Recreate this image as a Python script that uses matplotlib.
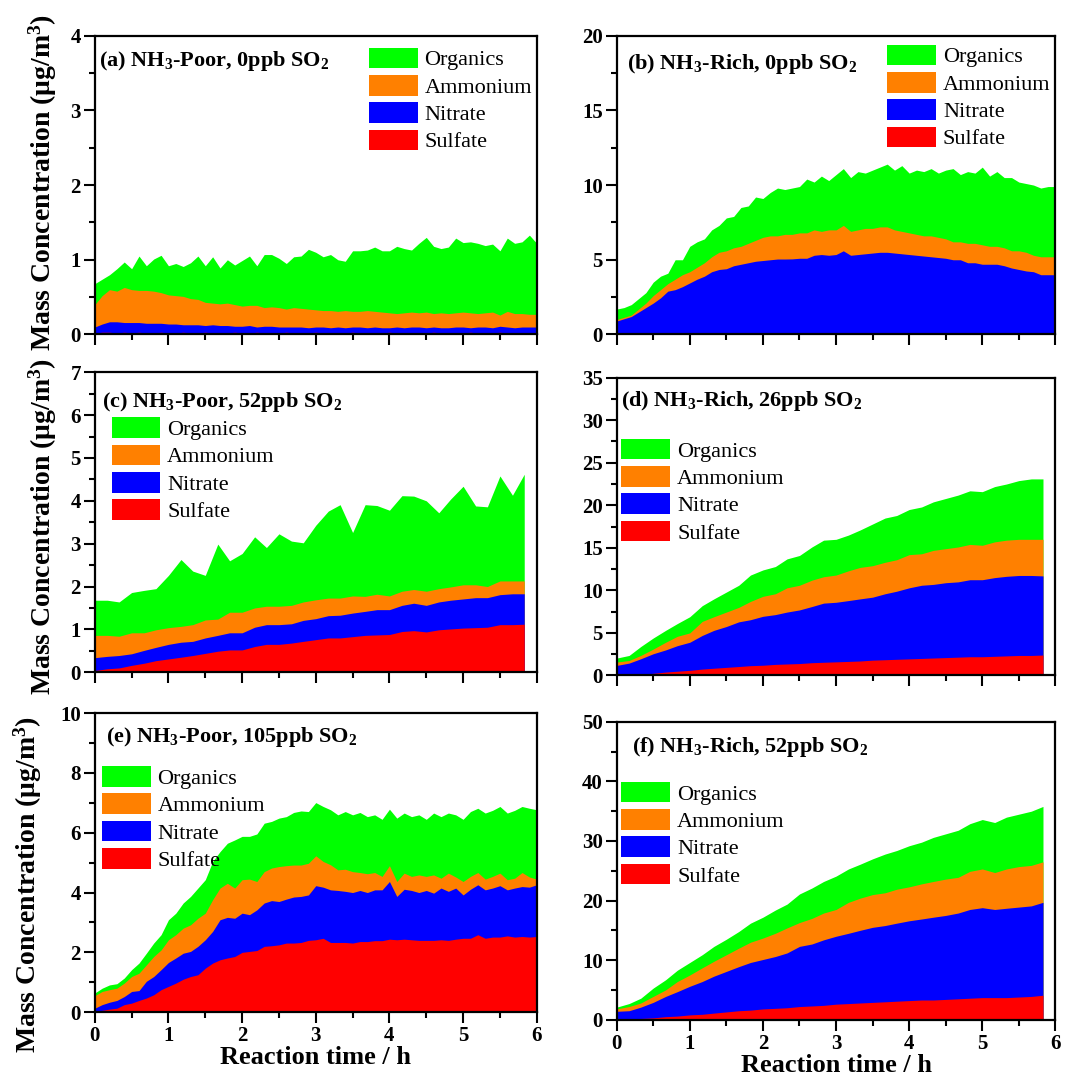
import numpy as np
import matplotlib.pyplot as plt
from matplotlib.ticker import MultipleLocator
from matplotlib.patches import Patch

plt.rcParams['font.family'] = 'Liberation Serif'
plt.rcParams['font.weight'] = 'bold'
plt.rcParams['mathtext.fontset'] = 'custom'
plt.rcParams['mathtext.rm'] = 'Liberation Serif:bold'
plt.rcParams['mathtext.it'] = 'Liberation Serif:bold'
plt.rcParams['mathtext.bf'] = 'Liberation Serif:bold'

# species order bottom -> top, values below are the upper edge of each stacked layer
species = ['Sulfate', 'Nitrate', 'Ammonium', 'Organics']
colors = ['#ff0000', '#0000ff', '#ff8000', '#00ff00']

# 6 min resolution (panels a, b, e)
t6 = [0.0, 0.1, 0.2, 0.3, 0.4, 0.5, 0.6, 0.7, 0.8, 0.9,
      1.0, 1.1, 1.2, 1.3, 1.4, 1.5, 1.6, 1.7, 1.8, 1.9,
      2.0, 2.1, 2.2, 2.3, 2.4, 2.5, 2.6, 2.7, 2.8, 2.9,
      3.0, 3.1, 3.2, 3.3, 3.4, 3.5, 3.6, 3.7, 3.8, 3.9,
      4.0, 4.1, 4.2, 4.3, 4.4, 4.5, 4.6, 4.7, 4.8, 4.9,
      5.0, 5.1, 5.2, 5.3, 5.4, 5.5, 5.6, 5.7, 5.8, 5.9, 6.0]
# 10 min resolution (panels c, d, f)
t10 = [0.0, 0.17, 0.33, 0.5, 0.67, 0.83, 1.0, 1.17, 1.33, 1.5, 1.67, 1.83,
       2.0, 2.17, 2.33, 2.5, 2.67, 2.83, 3.0, 3.17, 3.33, 3.5, 3.67, 3.83,
       4.0, 4.17, 4.33, 4.5, 4.67, 4.83, 5.0, 5.17, 5.33, 5.5, 5.67, 5.83]

# (a) NH3-Poor, 0ppb SO2
a_sulfate = [0.02, 0.03, 0.03, 0.02, 0.03, 0.02, 0.03, 0.02, 0.02, 0.03,
             0.02, 0.02, 0.03, 0.02, 0.02, 0.03, 0.02, 0.02, 0.02, 0.03,
             0.02, 0.02, 0.03, 0.02, 0.02, 0.02, 0.03, 0.02, 0.02, 0.02,
             0.03, 0.02, 0.02, 0.02, 0.02, 0.03, 0.02, 0.02, 0.02, 0.02,
             0.03, 0.02, 0.02, 0.02, 0.02, 0.02, 0.03, 0.02, 0.02, 0.02,
             0.02, 0.03, 0.02, 0.02, 0.02, 0.03, 0.02, 0.02, 0.02, 0.02, 0.02]
a_nitrate = [0.10, 0.14, 0.17, 0.17, 0.16, 0.16, 0.16, 0.15, 0.15, 0.15,
             0.14, 0.14, 0.13, 0.13, 0.13, 0.12, 0.13, 0.12, 0.12, 0.11,
             0.11, 0.12, 0.10, 0.11, 0.11, 0.10, 0.10, 0.10, 0.10, 0.09,
             0.10, 0.10, 0.09, 0.10, 0.09, 0.10, 0.10, 0.09, 0.10, 0.09,
             0.09, 0.10, 0.09, 0.10, 0.10, 0.09, 0.10, 0.09, 0.09, 0.10,
             0.10, 0.09, 0.10, 0.10, 0.09, 0.11, 0.10, 0.09, 0.10, 0.10, 0.10]
a_ammonium = [0.40, 0.52, 0.60, 0.58, 0.63, 0.60, 0.59, 0.59, 0.58, 0.56,
              0.53, 0.52, 0.51, 0.48, 0.47, 0.43, 0.42, 0.41, 0.42, 0.40,
              0.38, 0.39, 0.39, 0.36, 0.37, 0.36, 0.34, 0.36, 0.35, 0.34,
              0.33, 0.32, 0.32, 0.31, 0.32, 0.31, 0.31, 0.32, 0.31, 0.30,
              0.29, 0.28, 0.29, 0.30, 0.29, 0.30, 0.28, 0.29, 0.28, 0.29,
              0.30, 0.29, 0.28, 0.29, 0.30, 0.26, 0.31, 0.28, 0.28, 0.27, 0.27]
a_organics = [0.68, 0.74, 0.80, 0.88, 0.97, 0.88, 1.05, 0.92, 1.01, 1.06,
              0.92, 0.95, 0.91, 0.96, 1.05, 0.92, 1.04, 0.89, 1.00, 0.93,
              0.99, 1.05, 0.92, 1.07, 1.07, 1.02, 0.95, 1.04, 1.05, 1.14,
              1.10, 1.04, 1.07, 1.00, 0.98, 1.12, 1.12, 1.13, 1.17, 1.12,
              1.12, 1.18, 1.15, 1.13, 1.22, 1.30, 1.18, 1.15, 1.17, 1.29,
              1.23, 1.24, 1.22, 1.19, 1.21, 1.12, 1.29, 1.22, 1.24, 1.33, 1.22]

# (b) NH3-Rich, 0ppb SO2
b_sulfate = [0.05, 0.05, 0.06, 0.05, 0.05, 0.06, 0.05, 0.05, 0.06, 0.05,
             0.05, 0.06, 0.05, 0.05, 0.06, 0.05, 0.05, 0.06, 0.05, 0.05,
             0.06, 0.05, 0.05, 0.06, 0.05, 0.05, 0.06, 0.05, 0.05, 0.06,
             0.08, 0.08, 0.09, 0.08, 0.08, 0.09, 0.10, 0.09, 0.08, 0.09,
             0.10, 0.09, 0.08, 0.09, 0.10, 0.09, 0.08, 0.09, 0.10, 0.09,
             0.10, 0.09, 0.08, 0.09, 0.10, 0.09, 0.08, 0.09, 0.08, 0.08, 0.08]
b_nitrate = [0.9, 1.05, 1.2, 1.5, 1.8, 2.1, 2.45, 2.9, 3.0, 3.2,
             3.45, 3.7, 3.9, 4.2, 4.35, 4.4, 4.6, 4.7, 4.8, 4.9,
             4.95, 5.0, 5.05, 5.05, 5.06, 5.1, 5.1, 5.3, 5.35, 5.3,
             5.35, 5.6, 5.3, 5.35, 5.4, 5.45, 5.5, 5.5, 5.45, 5.4,
             5.35, 5.3, 5.25, 5.2, 5.15, 5.1, 5.0, 5.0, 4.8, 4.8,
             4.7, 4.7, 4.7, 4.6, 4.45, 4.35, 4.25, 4.2, 4.0, 4.0, 4.0]
b_ammonium = [1.0, 1.15, 1.3, 1.7, 2.1, 2.6, 3.0, 3.4, 3.7, 4.0,
              4.2, 4.5, 4.8, 5.2, 5.5, 5.6, 5.8, 5.9, 6.1, 6.3,
              6.5, 6.6, 6.6, 6.7, 6.7, 6.8, 6.8, 7.0, 6.9, 7.0,
              7.0, 7.3, 6.9, 7.0, 7.1, 7.1, 7.2, 7.2, 7.0, 6.9,
              6.8, 6.7, 6.6, 6.6, 6.5, 6.4, 6.2, 6.2, 6.1, 6.1,
              6.0, 5.9, 5.9, 5.8, 5.6, 5.6, 5.5, 5.3, 5.2, 5.2, 5.2]
b_organics = [1.7, 1.8, 2.0, 2.4, 2.8, 3.5, 3.9, 4.1, 5.0, 5.0,
              5.9, 6.2, 6.4, 7.0, 7.3, 7.8, 7.9, 8.5, 8.6, 9.2,
              9.1, 9.5, 9.8, 9.7, 9.8, 9.9, 10.4, 10.2, 10.6, 10.3,
              10.7, 11.1, 10.5, 10.9, 10.8, 11.0, 11.2, 11.4, 11.0, 11.3,
              10.8, 11.0, 10.9, 11.1, 10.8, 11.0, 11.1, 10.7, 10.9, 10.8,
              11.2, 10.6, 10.9, 10.5, 10.5, 10.2, 10.1, 10.0, 9.8, 9.9, 9.9]

# (c) NH3-Poor, 52ppb SO2
c_sulfate = [0.04, 0.08, 0.10, 0.16, 0.21, 0.27, 0.31, 0.35, 0.39, 0.44, 0.49, 0.52,
             0.52, 0.60, 0.65, 0.65, 0.68, 0.72, 0.76, 0.80, 0.80, 0.83, 0.86, 0.87,
             0.88, 0.95, 0.97, 0.94, 0.99, 1.01, 1.03, 1.04, 1.05, 1.11, 1.11, 1.12]
c_nitrate = [0.34, 0.37, 0.39, 0.43, 0.51, 0.58, 0.65, 0.70, 0.72, 0.80, 0.86, 0.92,
             0.92, 1.05, 1.11, 1.11, 1.13, 1.21, 1.25, 1.32, 1.33, 1.38, 1.42, 1.46,
             1.46, 1.56, 1.61, 1.56, 1.64, 1.68, 1.71, 1.74, 1.74, 1.81, 1.83, 1.83]
c_ammonium = [0.86, 0.86, 0.84, 0.92, 0.92, 0.99, 1.04, 1.07, 1.11, 1.22, 1.24, 1.40,
              1.40, 1.50, 1.54, 1.54, 1.56, 1.64, 1.69, 1.73, 1.73, 1.78, 1.77, 1.82,
              1.78, 1.89, 1.93, 1.89, 1.95, 1.99, 2.04, 2.04, 2.00, 2.13, 2.13, 2.13]
c_organics = [1.68, 1.68, 1.64, 1.86, 1.91, 1.95, 2.26, 2.63, 2.36, 2.26, 2.99, 2.60,
              2.77, 3.16, 2.91, 3.23, 3.06, 3.02, 3.43, 3.76, 3.91, 3.26, 3.91, 3.89,
              3.78, 4.12, 4.11, 4.00, 3.72, 4.04, 4.34, 3.88, 3.86, 4.58, 4.13, 4.62]

# (d) NH3-Rich, 26ppb SO2
d_sulfate = [0.05, 0.1, 0.15, 0.25, 0.4, 0.5, 0.6, 0.75, 0.85, 0.95, 1.05, 1.15,
             1.2, 1.3, 1.35, 1.4, 1.5, 1.55, 1.6, 1.65, 1.7, 1.8, 1.85, 1.9,
             1.95, 2.0, 2.05, 2.1, 2.15, 2.2, 2.2, 2.25, 2.3, 2.35, 2.35, 2.4]
d_nitrate = [1.18, 1.45, 1.96, 2.55, 3.0, 3.5, 3.9, 4.7, 5.3, 5.75, 6.3, 6.55,
             6.95, 7.15, 7.45, 7.7, 8.1, 8.5, 8.6, 8.8, 9.0, 9.2, 9.6, 9.9,
             10.3, 10.6, 10.7, 10.9, 11.0, 11.25, 11.25, 11.5, 11.65, 11.75, 11.75, 11.7]
d_ammonium = [1.57, 1.76, 2.35, 3.1, 3.9, 4.6, 5.0, 6.35, 6.9, 7.45, 8.0, 8.7,
              9.3, 9.6, 10.3, 10.6, 11.2, 11.6, 11.8, 12.3, 12.7, 12.9, 13.3, 13.6,
              14.2, 14.3, 14.7, 14.9, 15.1, 15.4, 15.3, 15.7, 15.9, 16.0, 16.0, 16.0]
d_organics = [2.04, 2.35, 3.4, 4.4, 5.3, 6.1, 6.9, 8.2, 9.0, 9.8, 10.6, 11.8,
              12.4, 12.8, 13.7, 14.1, 15.1, 15.9, 16.0, 16.5, 17.1, 17.8, 18.5, 18.8,
              19.5, 19.8, 20.4, 20.8, 21.2, 21.7, 21.6, 22.2, 22.5, 22.9, 23.1, 23.1]

# (e) NH3-Poor, 105ppb SO2
e_sulfate = [0.03, 0.06, 0.10, 0.13, 0.25, 0.30, 0.39, 0.47, 0.58, 0.75,
             0.86, 0.97, 1.10, 1.19, 1.25, 1.47, 1.64, 1.75, 1.81, 1.86,
             2.00, 2.03, 2.06, 2.20, 2.22, 2.25, 2.31, 2.31, 2.33, 2.40,
             2.42, 2.47, 2.33, 2.33, 2.33, 2.31, 2.36, 2.36, 2.39, 2.39,
             2.44, 2.42, 2.44, 2.42, 2.40, 2.40, 2.40, 2.42, 2.40, 2.44,
             2.47, 2.47, 2.59, 2.47, 2.51, 2.51, 2.55, 2.51, 2.53, 2.51, 2.53]
e_nitrate = [0.13, 0.25, 0.33, 0.39, 0.52, 0.69, 0.72, 1.03, 1.19, 1.42,
             1.66, 1.81, 1.97, 2.03, 2.20, 2.42, 2.70, 3.09, 3.17, 3.14,
             3.31, 3.26, 3.42, 3.65, 3.73, 3.70, 3.78, 3.85, 3.87, 3.92,
             4.23, 4.18, 4.09, 4.07, 4.04, 4.00, 4.07, 4.00, 4.09, 4.09,
             4.37, 3.87, 4.11, 4.07, 4.00, 4.07, 3.98, 4.15, 4.04, 4.15,
             3.92, 4.11, 4.26, 4.09, 4.15, 4.23, 4.09, 4.15, 4.20, 4.18, 4.26]
e_ammonium = [0.55, 0.69, 0.75, 0.80, 0.97, 1.19, 1.30, 1.58, 1.86, 2.08,
              2.42, 2.59, 2.81, 2.92, 3.14, 3.31, 3.76, 4.15, 4.31, 4.15,
              4.43, 4.45, 4.37, 4.70, 4.82, 4.87, 4.90, 4.92, 4.92, 4.98,
              5.23, 5.04, 4.93, 4.76, 4.78, 4.70, 4.67, 4.63, 4.67, 4.54,
              4.90, 4.37, 4.65, 4.54, 4.59, 4.54, 4.59, 4.48, 4.65, 4.52,
              4.37, 4.54, 4.67, 4.45, 4.54, 4.65, 4.43, 4.48, 4.67, 4.52, 4.45]
e_organics = [0.64, 0.80, 0.91, 0.95, 1.14, 1.42, 1.64, 1.97, 2.31, 2.59,
              3.09, 3.31, 3.65, 3.87, 4.15, 4.43, 5.04, 5.37, 5.65, 5.76,
              5.88, 5.88, 5.96, 6.32, 6.38, 6.49, 6.54, 6.68, 6.73, 6.71,
              7.01, 6.88, 6.77, 6.60, 6.71, 6.60, 6.68, 6.54, 6.60, 6.45,
              6.79, 6.49, 6.66, 6.54, 6.60, 6.45, 6.66, 6.54, 6.66, 6.60,
              6.45, 6.71, 6.82, 6.66, 6.75, 6.88, 6.66, 6.75, 6.88, 6.82, 6.77]

# (f) NH3-Rich, 52ppb SO2
f_sulfate = [0.1, 0.15, 0.2, 0.3, 0.5, 0.6, 0.8, 0.9, 1.1, 1.3, 1.5, 1.6,
             1.8, 1.9, 2.0, 2.2, 2.3, 2.4, 2.6, 2.7, 2.8, 2.9, 3.0, 3.1,
             3.2, 3.3, 3.3, 3.4, 3.5, 3.6, 3.7, 3.7, 3.7, 3.8, 3.9, 4.1]
f_nitrate = [1.4, 1.5, 2.1, 2.9, 3.9, 4.7, 5.6, 6.4, 7.3, 8.1, 8.9, 9.6,
             10.1, 10.6, 11.2, 12.3, 12.7, 13.4, 14.0, 14.5, 15.0, 15.5, 15.8, 16.2,
             16.6, 16.9, 17.2, 17.5, 17.9, 18.5, 18.8, 18.5, 18.7, 18.9, 19.1, 19.7]
f_ammonium = [1.8, 2.2, 2.8, 3.9, 5.0, 6.4, 7.5, 8.7, 9.8, 10.9, 12.0, 13.0,
              13.7, 14.5, 15.4, 16.3, 17.0, 17.9, 18.5, 19.7, 20.4, 21.0, 21.3, 21.9,
              22.3, 22.8, 23.2, 23.6, 23.9, 24.9, 25.3, 24.7, 25.3, 25.7, 25.9, 26.5]
f_organics = [2.1, 2.7, 3.6, 5.3, 6.7, 8.3, 9.6, 10.9, 12.3, 13.5, 14.8, 16.2,
              17.2, 18.4, 19.4, 21.1, 22.1, 23.2, 24.1, 25.3, 26.1, 27.0, 27.8, 28.4,
              29.2, 29.8, 30.6, 31.2, 31.8, 32.9, 33.6, 33.1, 34.0, 34.5, 35.0, 35.8]

titles = [r'(a) NH$_3$-Poor, 0ppb SO$_2$', r'(b) NH$_3$-Rich, 0ppb SO$_2$',
          r'(c) NH$_3$-Poor, 52ppb SO$_2$', r'(d) NH$_3$-Rich, 26ppb SO$_2$',
          r'(e) NH$_3$-Poor, 105ppb SO$_2$', r'(f) NH$_3$-Rich, 52ppb SO$_2$']

panels = [
    (t6, [a_sulfate, a_nitrate, a_ammonium, a_organics]),
    (t6, [b_sulfate, b_nitrate, b_ammonium, b_organics]),
    (t10, [c_sulfate, c_nitrate, c_ammonium, c_organics]),
    (t10, [d_sulfate, d_nitrate, d_ammonium, d_organics]),
    (t6, [e_sulfate, e_nitrate, e_ammonium, e_organics]),
    (t10, [f_sulfate, f_nitrate, f_ammonium, f_organics]),
]

# layout (figure fractions) and per-panel settings
rects = [[0.089, 0.690, 0.415, 0.277], [0.579, 0.690, 0.412, 0.277],
         [0.089, 0.377, 0.415, 0.278], [0.579, 0.374, 0.412, 0.276],
         [0.089, 0.062, 0.415, 0.277], [0.579, 0.055, 0.412, 0.276]]
ymax = [4, 20, 7, 35, 10, 50]
ymajor = [1, 5, 1, 5, 2, 10]
title_pos = [(0.010, 0.955), (0.023, 0.945), (0.016, 0.94),
             (0.011, 0.963), (0.025, 0.96), (0.036, 0.956)]
legend_pos = [(0.62, 0.96), (0.617, 0.97), (0.038, 0.85),
              (0.011, 0.795), (0.016, 0.823), (0.011, 0.799)]

fig = plt.figure(figsize=(10.65, 10.79), dpi=100)

for i, (t, tops) in enumerate(panels):
    ax = fig.add_axes(rects[i])
    # draw from the top layer down so neighbouring layers share an edge
    for top, c in reversed(list(zip(tops, colors))):
        ax.fill_between(t, 0, top, color=c, lw=0)
    ax.set_xlim(0, 6)
    ax.set_ylim(0, ymax[i])
    ax.xaxis.set_major_locator(MultipleLocator(1))
    ax.xaxis.set_minor_locator(MultipleLocator(0.5))
    ax.yaxis.set_major_locator(MultipleLocator(ymajor[i]))
    ax.yaxis.set_minor_locator(MultipleLocator(ymajor[i] / 2))
    ax.tick_params(which='both', direction='out', top=False, right=False,
                   width=1.5, labelsize=15, pad=2)
    ax.tick_params(which='major', length=8)
    ax.tick_params(which='minor', length=4)
    for sp in ax.spines.values():
        sp.set_linewidth(1.6)
    if i < 4:
        ax.tick_params(labelbottom=False)
    else:
        ax.set_xlabel('Reaction time / h', fontsize=19, fontweight='bold',
                      labelpad=0)
    ax.text(title_pos[i][0], title_pos[i][1], titles[i], transform=ax.transAxes,
            fontsize=16, va='top', ha='left')
    handles = [Patch(facecolor=c, edgecolor='none') for c in colors[::-1]]
    ax.legend(handles, species[::-1], loc='upper left',
              bbox_to_anchor=legend_pos[i], frameon=False, borderpad=0,
              borderaxespad=0, handlelength=2.2, handleheight=1.05,
              labelspacing=0.2, handletextpad=0.3,
              prop={'family': 'Liberation Serif', 'weight': 'normal', 'size': 16})

ylab = 'Mass Concentration (μg/m$^3$)'
for x, y in [(0.040, 0.831), (0.040, 0.512), (0.026, 0.180)]:
    fig.text(x, y, ylab, rotation=90, ha='center', va='center', fontsize=20)

fig.savefig('out.png', dpi=100)
